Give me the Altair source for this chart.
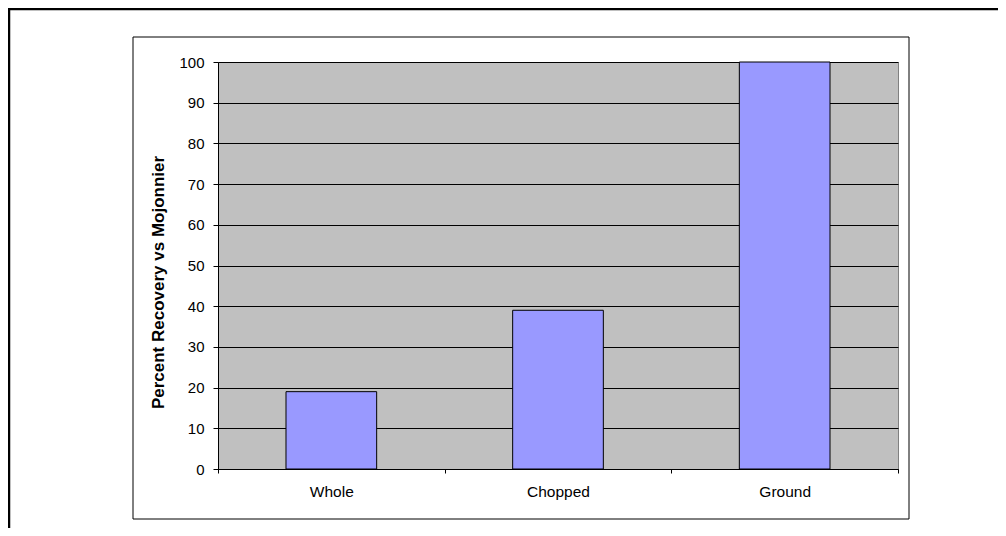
import altair as alt
import pandas as pd

categories = ["Whole", "Chopped", "Ground"]
recovery = [19, 39, 100]
y_ticks = [0, 10, 20, 30, 40, 50, 60, 70, 80, 90, 100]

df = pd.DataFrame({"method": categories, "pct": recovery})
one = pd.DataFrame({"k": [0]})

FONT = "Liberation Sans"

outer = alt.Chart(one).mark_rect(fillOpacity=0, stroke="black", strokeWidth=2.5).encode(
    x=alt.value(-209), x2=alt.value(800), y=alt.value(-53), y2=alt.value(480)
)
inner = alt.Chart(one).mark_rect(fillOpacity=0, stroke="black", strokeWidth=1).encode(
    x=alt.value(-85), x2=alt.value(691), y=alt.value(-25), y2=alt.value(457)
)

bars = alt.Chart(df).mark_bar(
    color="#9999FF", stroke="black", strokeWidth=1, width=alt.RelativeBandSize(0.4)
).encode(
    x=alt.X("method:N", sort=categories, title=None,
            scale=alt.Scale(paddingInner=0, paddingOuter=0),
            axis=alt.Axis(labelAngle=0, tickBand="extent", tickSize=4, labelPadding=11,
                          labelFontSize=15.5, grid=False, domainColor="black", tickColor="black")),
    y=alt.Y("pct:Q", title="Percent Recovery vs Mojonnier",
            scale=alt.Scale(domain=[0, 100], nice=False),
            axis=alt.Axis(values=y_ticks, tickSize=5, labelPadding=9, labelFontSize=15,
                          grid=True, gridColor="black", gridWidth=1, gridOpacity=1,
                          domainColor="black", tickColor="black",
                          titleFontSize=17, titleFontWeight="bold", titlePadding=11,
                          titleY=220)),
)

chart = alt.layer(outer, inner, bars).properties(
    width=680, height=407,
    autosize=alt.AutoSizeParams(type="none"),
    padding={"left": 210, "top": 54, "right": 100, "bottom": 59},
    background="white",
).configure_view(
    fill="#C0C0C0", stroke="#808080", strokeWidth=1
).configure_axis(
    labelFont=FONT, titleFont=FONT, labelColor="black", titleColor="black"
)

chart.save("out.html", embed_options={"renderer": "svg", "actions": False})
